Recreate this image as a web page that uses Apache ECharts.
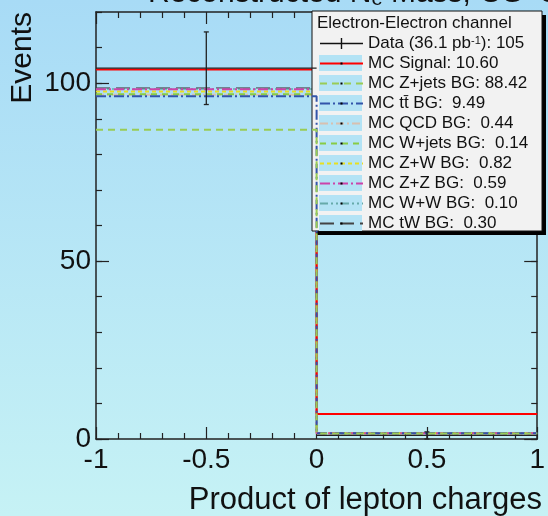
<!DOCTYPE html>
<html>
<head>
<meta charset="utf-8">
<script src="https://cdn.jsdelivr.net/npm/echarts@6/dist/echarts.min.js"></script>
<style>
html,body{margin:0;padding:0;}
#chart{width:548px;height:516px;}
</style>
</head>
<body>
<div id="chart"></div>
<script>
// ---- data ----
const binLow = [-1, 0];
const binHigh = [0, 1];
const dataCounts = [104.2, 1];
const dataErrors = [10.2, 1.0];

// per-bin MC contributions (stacked bottom -> top in this order)
const mcZjets = [86.90, 1.52];
const mcTtbar = [9.40, 0.09];
const mcQCD = [0.44, 0.00];
const mcWjets = [0.14, 0.00];
const mcZW = [0.80, 0.02];
const mcZZ = [0.58, 0.01];
const mcWW = [0.10, 0.00];
const mcTW = [0.30, 0.00];
const mcSignal = [5.20, 5.40];

const xTickLabels = ['-1', '-0.5', '0', '0.5', '1'];
const yTickLabels = ['0', '50', '100'];

const legendTitle = 'Electron-Electron channel';
const legendLabels = {
  data: 'Data (36.1 pb{sup|-1}): 105',
  signal: 'MC Signal: 10.60',
  zjets: 'MC Z+jets BG: 88.42',
  ttbar: 'MC tt\u0304 BG:  9.49',
  qcd: 'MC QCD BG:  0.44',
  wjets: 'MC W+jets BG:  0.14',
  zw: 'MC Z+W BG:  0.82',
  zz: 'MC Z+Z BG:  0.59',
  ww: 'MC W+W BG:  0.10',
  tw: 'MC tW BG:  0.30'
};

// ---- styles ----
const FONT = '"Liberation Sans", Arial, Helvetica, sans-serif';
const mcDefs = [
  {key:'zjets', vals: mcZjets, color:'#99cc55', type:[7,5], width:2, z:9},
  {key:'ttbar', vals: mcTtbar, color:'#3355aa', type:[10,3,2,3], width:2, z:8},
  {key:'qcd',   vals: mcQCD,   color:'#d8c0b0', type:[8,3,2,3], width:2, z:2},
  {key:'wjets', vals: mcWjets, color:'#88cc44', type:[6,5], width:2, z:2},
  {key:'zw',    vals: mcZW,    color:'#e8e020', type:[4,3], width:2, z:3},
  {key:'zz',    vals: mcZZ,    color:'#cc44aa', type:[10,3,2,3], width:2, z:3},
  {key:'ww',    vals: mcWW,    color:'#66aaaa', type:[8,3,2,3,2,3], width:1.5, z:2},
  {key:'tw',    vals: mcTW,    color:'#444444', type:[14,6], width:1, z:2},
  {key:'signal',vals: mcSignal,color:'#ff0000', type:'solid', width:2, z:4}
];

const chart = echarts.init(document.getElementById('chart'));

// tiny centred dot used as the legend marker
const DOT = 'path://M0,0L0.01,0L0.01,0.01Z M42,42L58,42L58,58L42,58Z M100,100L100.01,100L100.01,100.01Z';

const running = binLow.map(() => 0);
const series = mcDefs.map(d => {
  const cum = d.vals.map((v, i) => (running[i] += v));
  return {
    name: d.key,
    type: 'line',
    step: 'end',
    symbol: DOT,
    showSymbol: false,
    xAxisIndex: 0,
    yAxisIndex: 0,
    z: d.z,
    lineStyle: {color: d.color, type: d.type, width: d.width},
    itemStyle: {color: '#000'},
    emphasis: {disabled: true},
    data: [[binLow[0], cum[0]], [binLow[1], cum[1]], [binHigh[1], cum[1]]]
  };
});

series.push({
  name: 'data',
  type: 'custom',
  xAxisIndex: 0,
  yAxisIndex: 0,
  z: 10,
  itemStyle: {color: '#000'},
  encode: {x: [0, 1], y: [2]},
  data: binLow.map((lo, i) => [lo, binHigh[i], dataCounts[i], dataErrors[i]]),
  renderItem: function (params, api) {
    const lo = api.value(0), hi = api.value(1), v = api.value(2), e = api.value(3);
    const c = (lo + hi) / 2;
    const a = api.coord([lo, v]), b = api.coord([hi, v]);
    const t = api.coord([c, v + e]), u = api.coord([c, v - e]);
    const st = {stroke: '#222', lineWidth: 1.3};
    return {type: 'group', children: [
      {type: 'line', shape: {x1: a[0], y1: a[1], x2: b[0], y2: b[1]}, style: st},
      {type: 'line', shape: {x1: t[0], y1: t[1], x2: u[0], y2: u[1]}, style: st},
      {type: 'line', shape: {x1: t[0]-2.5, y1: t[1], x2: t[0]+2.5, y2: t[1]}, style: st},
      {type: 'line', shape: {x1: u[0]-2.5, y1: u[1], x2: u[0]+2.5, y2: u[1]}, style: st}
    ]};
  }
});

const axisLineStyle = {color: '#222', width: 1.5};
function xAx(pos, labels) {
  return {
    type: 'value', position: pos, min: -1, max: 1, interval: 0.5,
    axisLine: {show: true, onZero: false, lineStyle: axisLineStyle},
    axisTick: {show: true, inside: true, length: 12, lineStyle: {color: '#222', width: 1.2}},
    minorTick: {show: true, splitNumber: 5, length: 6, lineStyle: {color: '#222', width: 1.2}},
    splitLine: {show: false}, minorSplitLine: {show: false},
    axisLabel: labels ? {
      show: true, margin: 7, color: '#111', fontSize: 28, fontFamily: FONT,
      formatter: function (v) { const i = Math.round((v + 1) / 0.5); return xTickLabels[i] !== undefined ? xTickLabels[i] : ''; }
    } : {show: false}
  };
}
function yAx(pos, interval, len, labels, line) {
  return {
    type: 'value', position: pos, min: 0, max: 120, interval: interval,
    axisLine: {show: line, onZero: false, lineStyle: axisLineStyle},
    axisTick: {show: true, inside: true, length: len, lineStyle: {color: '#222', width: 1.2}},
    splitLine: {show: false},
    axisLabel: labels ? {
      show: true, margin: 5, color: '#111', fontSize: 28, fontFamily: FONT, showMaxLabel: false,
      formatter: function (v) { const i = Math.round(v / 50); return (v % 50 === 0 && yTickLabels[i] !== undefined) ? yTickLabels[i] : ''; }
    } : {show: false}
  };
}

const legendKeys = ['data', 'signal', 'zjets', 'ttbar', 'qcd', 'wjets', 'zw', 'zz', 'ww', 'tw'];
const rowTop0 = 35, rowPitch = 20;
const swatches = legendKeys.slice(1).map((k, i) => ({
  type: 'rect', z: 6,
  shape: {x: 319, y: rowTop0 + (i + 1) * rowPitch, width: 43, height: 16},
  style: {fill: '#b3e3f5'}
}));

const option = {
  animation: false,
  backgroundColor: new echarts.graphic.LinearGradient(0, 0, 0, 1, [
    {offset: 0, color: '#a8dbf6'},
    {offset: 1, color: '#c6f2f5'}
  ]),
  grid: {left: 96, right: 6, top: 12, bottom: 77},
  xAxis: [xAx('bottom', true), xAx('top', false)],
  yAxis: [
    yAx('left', 50, 13, true, true),
    yAx('left', 10, 6, false, false),
    yAx('right', 50, 13, false, true),
    yAx('right', 10, 6, false, false)
  ],
  legend: {
    orient: 'vertical', left: 319, top: rowTop0, padding: 0, z: 10,
    itemWidth: 43, itemHeight: 16, itemGap: 3,
    selectedMode: false,
    textStyle: {color: '#111', fontSize: 17, fontFamily: FONT,
      rich: {sup: {fontSize: 11, fontFamily: FONT, color: '#111', verticalAlign: 'top', padding: [0, 0, 6, 0]}}},
    formatter: function (name) { return legendLabels[name]; },
    data: legendKeys.map(k => k === 'data'
      ? {name: k, icon: 'path://M0,7.3L43,7.3L43,8.7L0,8.7Z M20.8,2.5L22.2,2.5L22.2,13.5L20.8,13.5Z M0,0L0.01,0L0.01,0.01Z M43,16L43.01,16L43.01,16.01Z', itemStyle: {color: '#111'}}
      : {name: k})
  },
  graphic: [
    {type: 'rect', z: 5, shape: {x: 316, y: 15, width: 230, height: 220}, style: {fill: '#000'}},
    {type: 'rect', z: 5, shape: {x: 312, y: 11, width: 230, height: 220}, style: {fill: '#f2f2f2', stroke: '#111', lineWidth: 1}},
    {type: 'text', z: 6, x: 317, y: 23, style: {text: legendTitle, fontSize: 17, fontFamily: FONT, fill: '#111', textAlign: 'left', textVerticalAlign: 'middle'}},
    ...swatches,
    {type: 'text', z: 6, x: 23, y: 12, rotation: Math.PI / 2,
      style: {text: 'Events', fontSize: 30, fontFamily: FONT, fill: '#111', textAlign: 'right', textVerticalAlign: 'middle'}},
    {type: 'text', z: 6, x: 542, y: 500,
      style: {text: 'Product of lepton charges', fontSize: 31, fontFamily: FONT, fill: '#111', textAlign: 'right', textVerticalAlign: 'middle'}},
    {type: 'text', z: 1, x: 148, y: -6,
      style: {text: 'Reconstructed N{sub|e} Mass, OS+SS', fontSize: 30, fontFamily: FONT, fill: '#111', textAlign: 'left', textVerticalAlign: 'middle',
        rich: {sub: {fontSize: 20, fontFamily: FONT, fill: '#111', verticalAlign: 'bottom', padding: [8, 0, 0, 0]}}}}
  ],
  series: series
};
chart.setOption(option);
</script>
</body>
</html>
